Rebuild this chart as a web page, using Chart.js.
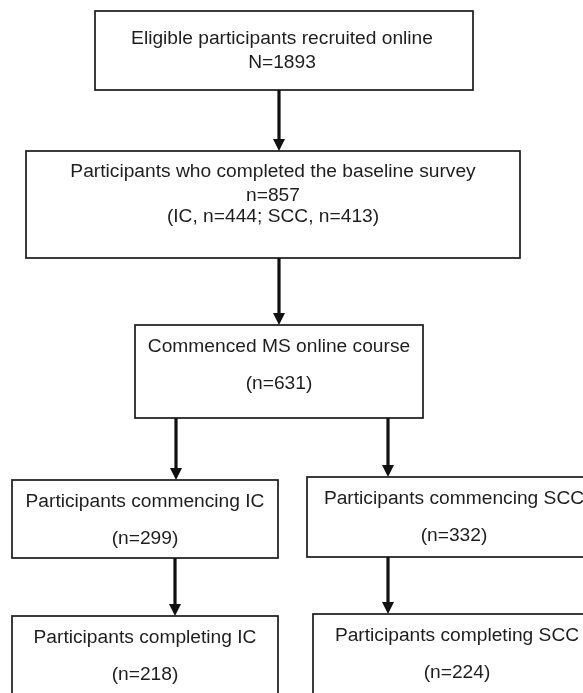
<!DOCTYPE html>
<html>
<head>
<meta charset="utf-8">
<script src="https://cdn.jsdelivr.net/npm/chart.js@4/dist/chart.umd.min.js"></script>
<style>
  html, body { margin: 0; padding: 0; background: #fff; }
  #wrap { width: 583px; height: 693px; }
</style>
</head>
<body>
<div id="wrap"><canvas id="flow"></canvas></div>
<script>
// flow stages and their counts
const stageTitles = [
  "Eligible participants recruited online",
  "Participants who completed the baseline survey",
  "Commenced MS online course",
  "Participants commencing IC",
  "Participants commencing SCC",
  "Participants completing IC",
  "Participants completing SCC"
];
const stageCounts = [1893, 857, 631, 299, 332, 218, 224];
const baselineIC = 444;
const baselineSCC = 413;

// layout of boxes (x0, y0, x1, y1) and text centre x, in page units
const boxLayout = [
  [95, 11, 473, 90],
  [26, 151, 520, 258],
  [135, 325, 423, 418],
  [12, 480, 278, 558],
  [307, 477, 610, 557],
  [12, 616, 278, 700],
  [313, 614, 610, 700]
];
const textX = [282, 273, 279, 145, 454, 145, 457];
// arrows: [from stage, to stage, x]
const arrows = [[0, 1, 279], [1, 2, 279], [2, 3, 176], [2, 4, 388], [3, 5, 175], [4, 6, 388]];

function stageLines(i) {
  if (i === 0) return [[stageTitles[0], 39], ["N=" + stageCounts[0], 63]];
  if (i === 1) return [[stageTitles[1], 172], ["n=" + stageCounts[1], 196],
    ["(IC, n=" + baselineIC + "; SCC, n=" + baselineSCC + ")", 217]];
  const top = boxLayout[i][1];
  return [[stageTitles[i], top + 22], ["(n=" + stageCounts[i] + ")", top + 59]];
}

const flowPlugin = {
  id: "flow",
  afterDatasetsDraw(chart) {
    const ctx = chart.ctx;
    const sx = chart.scales.x, sy = chart.scales.y;
    const px = v => sx.getPixelForValue(v);
    const py = v => sy.getPixelForValue(v);
    ctx.save();
    ctx.strokeStyle = "#1a1a1a";
    ctx.lineWidth = 1.7;
    boxLayout.forEach((b, i) => {
      ctx.strokeRect(px(b[0]), py(b[1]), px(b[2]) - px(b[0]), py(b[3]) - py(b[1]));
      ctx.fillStyle = "#1e1e1e";
      ctx.font = "19.2px 'Liberation Sans', Arial, sans-serif";
      ctx.textAlign = "center";
      ctx.textBaseline = "middle";
      stageLines(i).forEach(l => ctx.fillText(l[0], px(textX[i]), py(l[1])));
    });
    ctx.lineWidth = 3.2;
    ctx.strokeStyle = "#111";
    ctx.fillStyle = "#111";
    arrows.forEach(a => {
      const x = px(a[2]);
      const y0 = py(boxLayout[a[0]][3]);
      const y1 = py(boxLayout[a[1]][1]);
      ctx.beginPath();
      ctx.moveTo(x, y0);
      ctx.lineTo(x, y1 - 9);
      ctx.stroke();
      ctx.beginPath();
      ctx.moveTo(x - 6, y1 - 12);
      ctx.lineTo(x + 6, y1 - 12);
      ctx.lineTo(x, y1);
      ctx.closePath();
      ctx.fill();
    });
    ctx.restore();
  }
};

new Chart(document.getElementById("flow"), {
  type: "scatter",
  data: {
    datasets: [{
      label: "stages",
      data: boxLayout.map((b, i) => ({ x: textX[i], y: (b[1] + b[3]) / 2, n: stageCounts[i] })),
      pointRadius: 0
    }]
  },
  options: {
    responsive: true,
    maintainAspectRatio: false,
    animation: false,
    layout: { padding: 0 },
    plugins: { legend: { display: false }, tooltip: { enabled: false } },
    scales: {
      x: { type: "linear", min: 0, max: 583, display: false },
      y: { type: "linear", min: 0, max: 693, reverse: true, display: false }
    }
  },
  plugins: [flowPlugin]
});
</script>
</body>
</html>
